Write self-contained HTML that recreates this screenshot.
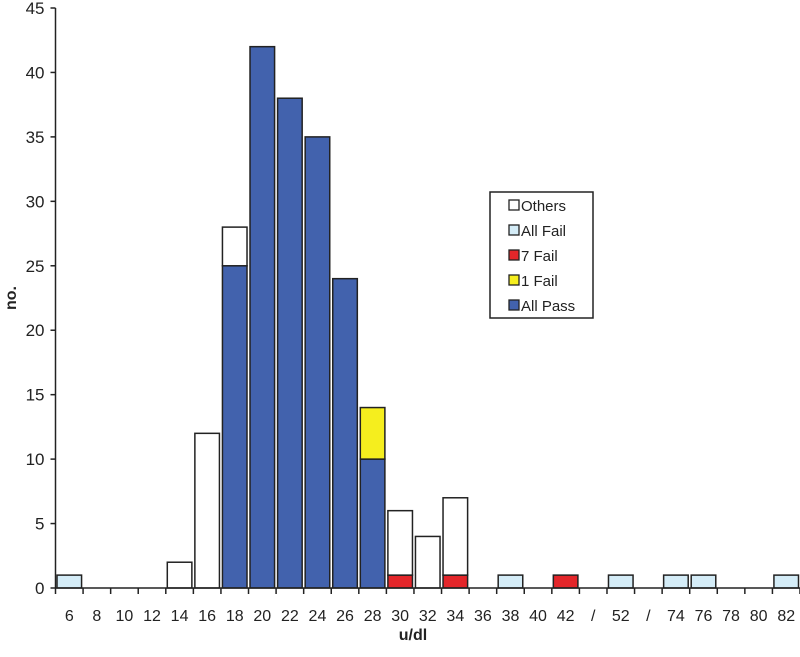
<!DOCTYPE html>
<html><head><meta charset="utf-8"><style>
body{margin:0;background:#fff;}
svg text{font-family:"Liberation Sans",Arial,sans-serif;}
</style></head><body>
<svg id="chart" width="800" height="652" viewBox="0 0 800 652" xmlns="http://www.w3.org/2000/svg"></svg>
<script>
const categories=["6","8","10","12","14","16","18","20","22","24","26","28","30","32","34","36","38","40","42","/","52","/","74","76","78","80","82"];
const allPass=[0,0,0,0,0,0,25,42,38,35,24,10,0,0,0,0,0,0,0,0,0,0,0,0,0,0,0];
const oneFail=[0,0,0,0,0,0,0,0,0,0,0,4,0,0,0,0,0,0,0,0,0,0,0,0,0,0,0];
const sevenFail=[0,0,0,0,0,0,0,0,0,0,0,0,1,0,1,0,0,0,1,0,0,0,0,0,0,0,0];
const allFail=[1,0,0,0,0,0,0,0,0,0,0,0,0,0,0,0,1,0,0,0,1,0,1,1,0,0,1];
const others=[0,0,0,0,2,12,3,0,0,0,0,0,5,4,6,0,0,0,0,0,0,0,0,0,0,0,0];
const yTicks=[0,5,10,15,20,25,30,35,40,45];
const seriesNames=["All Pass","1 Fail","7 Fail","All Fail","Others"];
const seriesColors=["#4262ad","#f5ee1e","#e3262a","#d4ecf7","#ffffff"];

const svg=document.getElementById('chart');
const NS='http://www.w3.org/2000/svg';
const X0=55.5,X1=800,Y0=588,Y1=8,YMAX=45;
const bw=(X1-X0)/categories.length;
const y=v=>Y0-(v/YMAX)*(Y0-Y1);
const x=i=>X0+i*bw;
function mk(tag,a){const e=document.createElementNS(NS,tag);for(const k in a)e.setAttribute(k,a[k]);svg.appendChild(e);return e;}

const series=[allPass,oneFail,sevenFail,allFail,others];
categories.forEach((c,i)=>{
  let base=0;
  series.forEach((s,j)=>{
    const v=s[i];if(!v)return;
    const r=mk('rect',{x:x(i)+1.5,y:y(base+v),width:bw-3,height:y(base)-y(base+v),fill:seriesColors[j],stroke:'#222','stroke-width':1.5});
    
    
    base+=v;
  });
});
const ya=mk('line',{x1:X0,y1:Y1,x2:X0,y2:Y0,stroke:'#222','stroke-width':1.5});

const xa=mk('line',{x1:X0,y1:Y0,x2:X1,y2:Y0,stroke:'#222','stroke-width':1.5});

yTicks.forEach(t=>{
  mk('line',{x1:X0-5,y1:y(t),x2:X0,y2:y(t),stroke:'#222','stroke-width':1.5});
  const tx=mk('text',{x:X0-11,y:y(t)+6,'text-anchor':'end','font-size':17,fill:'#222'});
  tx.textContent=t;
  
});
for(let i=0;i<=categories.length;i++){
  mk('line',{x1:x(i),y1:Y0,x2:x(i),y2:Y0+6,stroke:'#222','stroke-width':1.5});
}
categories.forEach((c,i)=>{
  const tx=mk('text',{x:x(i)+bw/2,y:Y0+33,'text-anchor':'middle','font-size':16,fill:'#222'});
  tx.textContent=c;
  
});
const xt=mk('text',{x:413,y:640,'text-anchor':'middle','font-size':16,'font-weight':'bold',fill:'#222'});
xt.textContent='u/dl';
const yt=mk('text',{x:16,y:298,'text-anchor':'middle','font-size':16,'font-weight':'bold',fill:'#222',transform:'rotate(-90 16 298)'});
yt.textContent='no.';
const lg=mk('rect',{x:490,y:192,width:103,height:126,fill:'#fff',stroke:'#222','stroke-width':1.5});

const order=[4,3,2,1,0];
order.forEach((j,k)=>{
  const yy=205+k*25;
  const sw=mk('rect',{x:509,y:yy-5,width:10,height:10,fill:seriesColors[j],stroke:'#222','stroke-width':1.3});
  
  const t=mk('text',{x:521,y:yy+6,'font-size':15,fill:'#222'});
  t.textContent=seriesNames[j];
  
});
</script>
</body></html>
